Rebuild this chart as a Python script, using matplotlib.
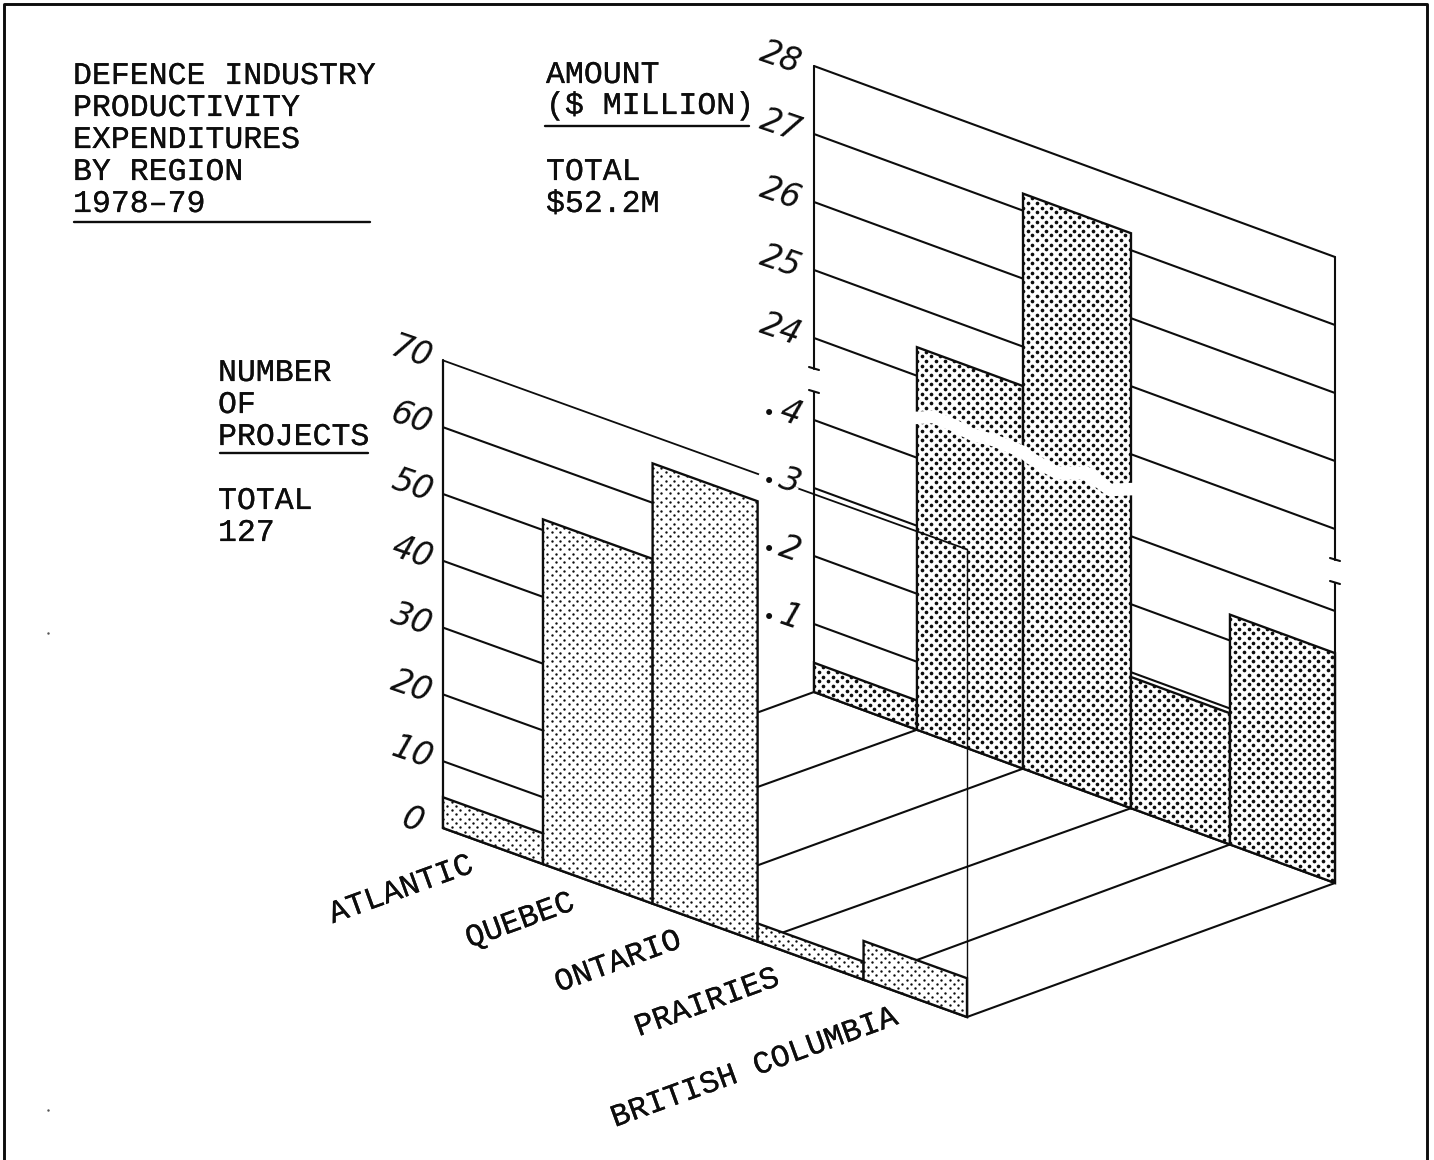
from matplotlib import pyplot as plt
from matplotlib.patches import Polygon
import matplotlib.patheffects as pe
import numpy as np

# Defence industry productivity expenditures, 1978-79

regions = ["ATLANTIC", "QUEBEC", "ONTARIO", "PRAIRIES", "BRITISH COLUMBIA"]
projects = [4.6, 51.6, 65.9, 2.7, 5.8]
amounts = [0.043, 24.42, 27.25, 0.193, 0.338]

project_ticks = [0, 10, 20, 30, 40, 50, 60, 70]
project_labels = ["0", "10", "20", "30", "40", "50", "60", "70"]
amount_ticks = [0.1, 0.2, 0.3, 0.4, 24, 25, 26, 27, 28]
amount_labels = ["1", "2", "3", "4", "24", "25", "26", "27", "28"]

title_lines = ["DEFENCE INDUSTRY", "PRODUCTIVITY", "EXPENDITURES", "BY REGION", "1978\u201379"]

# bar edges along each wall, in region widths (the bars were not ruled evenly)
front_edges = [0, 0.954, 2.0, 3.002, 4.013, 5]
back_edges = [0, 0.988, 2.006, 3.042, 3.992, 5]

INK = "#0d0d0d"
MONO = "Liberation Mono"

# wall layout in pixels
FRONT_X, FRONT_Y, FRONT_DX, FRONT_DY = 443, 828, 104.8, 37.8
BACK_X, BACK_Y, BACK_DX, BACK_DY = 814, 692, 104.2, 38.2
PX_PER_PROJECT = 6.68


def front_xy(r, value):
    return FRONT_X + r * FRONT_DX, FRONT_Y + r * FRONT_DY - value * PX_PER_PROJECT


def amount_height(value):
    # the amount axis is broken between .4 and 24
    if value <= 0.4:
        return value * 680
    return 354 + (value - 24) * 68


def back_xy(r, value):
    return BACK_X + r * BACK_DX, BACK_Y + r * BACK_DY - amount_height(value)


def seg(ax, p, q, lw=1.5, z=1, color=INK):
    ax.plot([p[0], q[0]], [p[1], q[1]], color=color, lw=lw, zorder=z, solid_capstyle="round")


def screened_bar(ax, corners, col_gap, size, z):
    # white bar with a rotated dot screen clipped to it
    poly = Polygon(corners, closed=True, fc="white", ec=INK, lw=1.7, zorder=z, joinstyle="miter")
    ax.add_patch(poly)
    xs = [c[0] for c in corners]
    ys = [c[1] for c in corners]
    row_gap = col_gap / 2
    rows = np.arange(min(ys) - row_gap, max(ys) + row_gap, row_gap)
    dots_x, dots_y = [], []
    for i, y in enumerate(rows):
        start = min(xs) - col_gap + (i % 2) * col_gap / 2
        for x in np.arange(start, max(xs) + col_gap, col_gap):
            dots_x.append(x)
            dots_y.append(y)
    dots = ax.scatter(dots_x, dots_y, s=size, c=INK, linewidths=0, zorder=z)
    dots.set_clip_path(poly)


fig = plt.figure(figsize=(14.34, 11.6), dpi=100, facecolor="white")
ax = fig.add_axes([0, 0, 1, 1])
ax.set_xlim(0, 1434)
ax.set_ylim(1160, 0)
ax.axis("off")

# outer frame, open along the bottom
ax.plot([4, 4, 1426.5, 1426.5], [1160, 4, 4, 1160], color=INK, lw=2.1)
ax.plot([48, 48], [633, 1110], ls="none", marker=".", ms=1.5, color="#555555")

# back wall: gridlines, broken axes, bars
for tick in amount_ticks:
    seg(ax, back_xy(0, tick), back_xy(5, tick), z=1)
seg(ax, back_xy(0, 0), back_xy(5, 0), lw=1.6, z=1)
for r in (0, 5):
    x, y = back_xy(r, 28)
    base = back_xy(r, 0)[1]
    seg(ax, (x, y), (x, y + 303), z=1)
    seg(ax, (x, y + 326), (x, base), z=1)
    seg(ax, (x - 5, y + 301), (x + 5, y + 304), z=1)
    seg(ax, (x - 5, y + 324), (x + 5, y + 327), z=1)

for i, value in enumerate(amounts):
    a, b = back_edges[i], back_edges[i + 1]
    corners = [back_xy(a, 0), back_xy(b, 0), back_xy(b, value), back_xy(a, value)]
    screened_bar(ax, corners, 9.3, 7.0, 2)

# white tear where the axis break crosses the two tall bars
tear_x = [914, 933, 953, 973, 993, 1023, 1030, 1057, 1087, 1110, 1134]
tear_y = [418, 417, 425, 435, 440, 452, 458, 473, 473, 490, 489]
ax.plot(tear_x, tear_y, color="white", lw=9, zorder=3, solid_capstyle="butt", solid_joinstyle="round")

# floor lines between the walls
for i in range(1, 6):
    seg(ax, front_xy(front_edges[i], 0), back_xy(back_edges[i], 0), z=4)
seg(ax, (759, 712), back_xy(0, 0), z=4)

# front wall: the top line and corner run on across the back wall
for tick in project_ticks[1:-1]:
    seg(ax, front_xy(0, tick), front_xy(2.9, tick), z=5)
seg(ax, front_xy(0, 70), front_xy(5, 70), lw=1.3, z=5)
seg(ax, front_xy(5, 70), front_xy(5, 0), lw=1.0, z=5)
seg(ax, front_xy(0, 70), front_xy(0, 0), lw=1.6, z=5)
seg(ax, front_xy(0, 0), front_xy(5, 0), lw=1.8, z=5)

for i, value in enumerate(projects):
    a, b = front_edges[i], front_edges[i + 1]
    corners = [front_xy(a, 0), front_xy(b, 0), front_xy(b, value), front_xy(a, value)]
    screened_bar(ax, corners, 8.6, 3.0, 6)

# hand-lettered scale numbers
num_style = dict(family="DejaVu Sans", style="oblique", fontsize=23.5, rotation=-19,
                 ha="center", va="center", color=INK, zorder=9)
for tick, label in zip(project_ticks, project_labels):
    x, y = front_xy(0, tick)
    ax.text(x - 31, y - 8, label, **num_style)
for tick, label in zip(amount_ticks, amount_labels):
    x, y = back_xy(0, tick)
    if tick < 1:
        ax.text(x - 24, y - 7, label, **num_style)
        ax.text(x - 45, y - 6, "\u2022", family="DejaVu Sans", fontsize=15, ha="center",
                va="center", color=INK, zorder=9)
    else:
        ax.text(x - 33, y - 8, label, **num_style)

# white gap in the front wall's top line around the .3 label
ax.plot([761, 796], [475, 489], color="white", lw=3, zorder=8)

# typed headings
typed = [pe.withStroke(linewidth=0.15, foreground=INK)]
text_style = dict(family=MONO, fontsize=22.7, color=INK, va="baseline", ha="left", zorder=9,
                  path_effects=typed)
for line, y in zip(title_lines, [84, 116, 148, 180, 212]):
    ax.text(73, y, line, **text_style)
seg(ax, (74, 221.5), (370, 221.5), lw=1.7, z=9)

ax.text(546, 83, "AMOUNT", **text_style)
ax.text(546, 114, "($ MILLION)", **text_style)
seg(ax, (545, 126), (749, 126), lw=1.7, z=9)
ax.text(546, 180, "TOTAL", **text_style)
ax.text(546, 212, "$52.2M", **text_style)

ax.text(218, 381, "NUMBER", **text_style)
ax.text(218, 413, "OF", **text_style)
ax.text(218, 445, "PROJECTS", **text_style)
seg(ax, (220, 453), (368, 453), lw=1.7, z=9)
ax.text(218, 509, "TOTAL", **text_style)
ax.text(218, 541, "127", **text_style)

# region names slanted under the front wall
label_pos = [(401, 890), (520, 921), (618, 962), (707, 1003), (754, 1068)]
for name, (x, y) in zip(regions, label_pos):
    ax.text(x, y, name, family=MONO, fontsize=22.7, color=INK, rotation=20,
            rotation_mode="anchor", ha="center", va="center", zorder=9, path_effects=typed)

plt.savefig("out.png", dpi=100)
